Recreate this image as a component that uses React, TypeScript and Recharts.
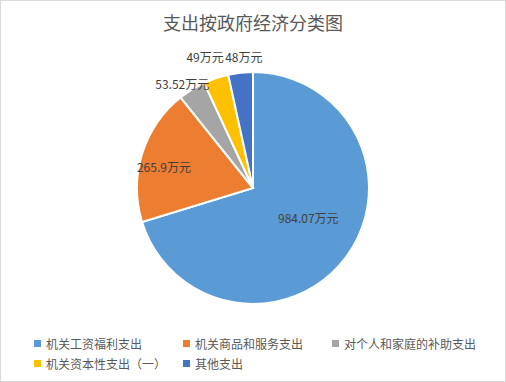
import { PieChart, Pie, Cell } from 'recharts';

const categories = ['机关工资福利支出', '机关商品和服务支出', '对个人和家庭的补助支出', '机关资本性支出（一）', '其他支出'];
const values = [984.07, 265.9, 53.52, 49, 48];
const colors = ['#5B9BD5', '#ED7D31', '#A5A5A5', '#FFC000', '#4472C4'];

const data = categories.map((name, i) => ({ name, value: values[i] }));

// label placement relative to each slice (radius factor, angle nudge in degrees)
const labelRadius = [0.54, 0.79, 1.09, 1.205, 1.14];
const labelAngleShift = [8.5, 3.5, 2.2, 1.4, -2.2];

const RAD = Math.PI / 180;

const renderLabel = (props: any) => {
  const { cx, cy, midAngle, outerRadius, value, index } = props;
  const r = outerRadius * labelRadius[index];
  const a = midAngle + labelAngleShift[index];
  const x = cx + r * Math.cos(-a * RAD);
  const y = cy + r * Math.sin(-a * RAD);
  return (
    <text x={x} y={y} fill="#404040" fontSize={12} textAnchor="middle" dominantBaseline="central">
      {`${value}万元`}
    </text>
  );
};

export default function App() {
  return (
    <div
      style={{
        position: 'absolute',
        left: 0,
        top: 0,
        width: 504,
        height: 380,
        border: '1px solid #d9d9d9',
        background: '#fff',
        fontFamily: '"Noto Sans CJK SC", sans-serif',
      }}
    >
      <div style={{ position: 'absolute', top: 8, width: '100%', textAlign: 'center', fontSize: 18, color: '#595959' }}>
        支出按政府经济分类图
      </div>
      <div style={{ position: 'absolute', left: 0, top: 0 }}>
        <PieChart width={504} height={320}>
          <Pie
            data={data}
            dataKey="value"
            cx={247}
            cy={182}
            outerRadius={116}
            startAngle={90}
            endAngle={-270}
            stroke="#fff"
            strokeWidth={2}
            label={renderLabel}
            labelLine={false}
            isAnimationActive={false}
          >
            {data.map((entry, index) => (
              <Cell key={`cell-${index}`} fill={colors[index]} />
            ))}
          </Pie>
        </PieChart>
      </div>
      <div
        style={{
          position: 'absolute',
          left: 33,
          top: 332,
          width: 460,
          display: 'flex',
          flexWrap: 'wrap',
          fontSize: 12,
          color: '#595959',
        }}
      >
        {categories.map((c, i) => (
          <div key={c} style={{ width: 149, height: 20, display: 'flex', alignItems: 'center' }}>
            <span style={{ display: 'inline-block', width: 7, height: 7, background: colors[i], marginRight: 5 }} />
            {c}
          </div>
        ))}
      </div>
    </div>
  );
}
